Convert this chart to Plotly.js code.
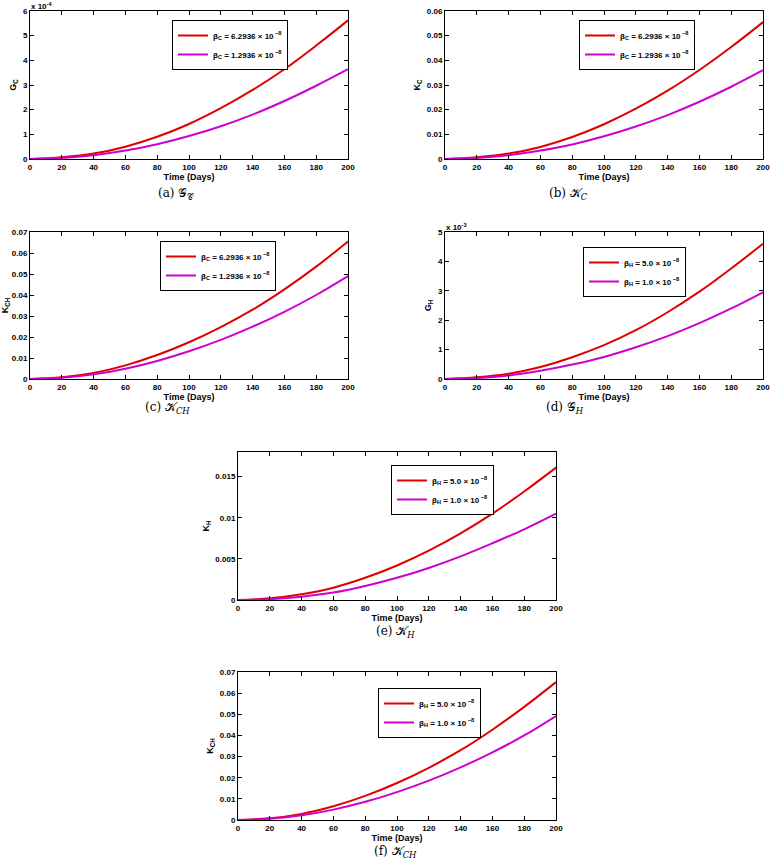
<!DOCTYPE html>
<html>
<head>
<meta charset="utf-8">
<script src="https://cdn.plot.ly/plotly-3.0.1.min.js"></script>
<style>
  html, body { margin: 0; padding: 0; background: #ffffff; }
  #chart { width: 770px; height: 861px; }
</style>
</head>
<body>
<div id="chart"></div>
<script>
/* Six panels, one shared MATLAB-like style: boxed axes, inside ticks,
 * bold Helvetica-ish labels, red = higher beta, magenta = lower beta. */

const DAYS = [0, 20, 40, 60, 80, 100, 120, 140, 160, 180, 200];

// (a) G_C, in units of 1e-4
const gcHigh = [0, 0.07, 0.22, 0.50, 0.90, 1.42, 2.06, 2.80, 3.64, 4.60, 5.62];
const gcLow = [0, 0.04, 0.15, 0.34, 0.60, 0.93, 1.33, 1.80, 2.35, 2.97, 3.64];
// (b) K_C
const kcHigh = [0, 0.0007, 0.0022, 0.0049, 0.0089, 0.0141, 0.0204, 0.0277, 0.0361, 0.0454, 0.0555];
const kcLow = [0, 0.0004, 0.0015, 0.0034, 0.0059, 0.0092, 0.0132, 0.0178, 0.0232, 0.0293, 0.0360];
// (c) K_CH, beta_C varied
const kchCHigh = [0, 0.0008, 0.0029, 0.0065, 0.0114, 0.0175, 0.0247, 0.0330, 0.0427, 0.0535, 0.0655];
const kchCLow = [0, 0.0006, 0.0022, 0.0049, 0.0086, 0.0132, 0.0186, 0.0249, 0.0320, 0.0400, 0.0490];
// (d) G_H, in units of 1e-3
const ghHigh = [0, 0.06, 0.18, 0.41, 0.74, 1.15, 1.66, 2.27, 2.97, 3.76, 4.60];
const ghLow = [0, 0.03, 0.12, 0.28, 0.49, 0.75, 1.08, 1.46, 1.90, 2.40, 2.95];
// (e) K_H
const khHigh = [0, 0.0002, 0.0007, 0.0015, 0.0027, 0.0042, 0.0060, 0.0081, 0.0105, 0.0132, 0.0161];
const khLow = [0, 0.0001, 0.0004, 0.0009, 0.0017, 0.0027, 0.0039, 0.0053, 0.0069, 0.0086, 0.0105];
// (f) K_CH, beta_H varied
const kchHHigh = [0, 0.0008, 0.0029, 0.0065, 0.0114, 0.0175, 0.0247, 0.0330, 0.0427, 0.0535, 0.0652];
const kchHLow = [0, 0.0006, 0.0022, 0.0049, 0.0086, 0.0132, 0.0186, 0.0249, 0.0320, 0.0400, 0.0492];

const BETA_C = ["β<sub>C</sub> = 6.2936 × 10<sup> −8</sup>", "β<sub>C</sub> = 1.2936 × 10<sup> −8</sup>"];
const BETA_H = ["β<sub>H</sub> = 5.0 × 10<sup> −8</sup>", "β<sub>H</sub> = 1.0 × 10<sup> −8</sup>"];

const RED = "#e00000";
const MAGENTA = "#cf00cf";
const W = 770, H = 861;
const SANS = '"Liberation Sans", Arial, Helvetica, sans-serif';
const SERIF = '"DejaVu Serif", "Liberation Serif", serif';

// box in page pixels: [left, right, top, bottom]; legend (right x, top y) and caption in pixels
const PANELS = [
  { box: [30, 348, 11, 159], hi: gcHigh, lo: gcLow, labels: BETA_C, ytitle: "G<sub>C</sub>",
    yrange: [0, 6], dtick: 1, exp: "x 10<sup>-4</sup>", leg: [288, 20],
    cap: [176, 194], caption: "(a) 𝒢<sub>𝒞</sub>" },
  { box: [445, 763, 11, 159], hi: kcHigh, lo: kcLow, labels: BETA_C, ytitle: "K<sub>C</sub>",
    yrange: [0, 0.06], dtick: 0.01, leg: [695, 20],
    cap: [568, 194], caption: "(b) 𝒦<sub><i>C</i></sub>" },
  { box: [30, 348, 232, 379], hi: kchCHigh, lo: kchCLow, labels: BETA_C, ytitle: "K<sub>CH</sub>",
    yrange: [0, 0.07], dtick: 0.01, leg: [276, 241],
    cap: [167, 408], caption: "(c) 𝒦<sub><i>CH</i></sub>" },
  { box: [445, 763, 232, 379], hi: ghHigh, lo: ghLow, labels: BETA_H, ytitle: "G<sub>H</sub>",
    yrange: [0, 5], dtick: 1, exp: "x 10<sup>-3</sup>", leg: [686, 247],
    cap: [565, 408], caption: "(d) 𝒢<sub><i>H</i></sub>" },
  { box: [238, 556, 452, 600], hi: khHigh, lo: khLow, labels: BETA_H, ytitle: "K<sub>H</sub>",
    yrange: [0, 0.018], dtick: 0.005, leg: [494, 465],
    cap: [396, 632], caption: "(e) 𝒦<sub><i>H</i></sub>" },
  { box: [238, 556, 672, 820], hi: kchHHigh, lo: kchHLow, labels: BETA_H, ytitle: "K<sub>CH</sub>",
    yrange: [0, 0.07], dtick: 0.01, leg: [481, 688],
    cap: [396, 852], caption: "(f) 𝒦<sub><i>CH</i></sub>" },
];

const px = (v) => v / W;
const py = (v) => 1 - v / H;

const axisStyle = {
  showline: true, linecolor: "#000000", linewidth: 1, mirror: "ticks",
  ticks: "inside", ticklen: 4, tickcolor: "#000000", showgrid: false, zeroline: false,
  tickfont: { family: SANS, size: 8, color: "#000000", weight: 700 },
  ticklabeloverflow: "allow", fixedrange: true,
};
const TITLE_FONT = { family: SANS, size: 9, color: "#000000", weight: 700 };

const traces = [];
const layout = {
  width: W, height: H,
  margin: { l: 0, r: 0, t: 0, b: 0 },
  paper_bgcolor: "#ffffff", plot_bgcolor: "#ffffff",
  showlegend: true,
  annotations: [],
};

PANELS.forEach((p, i) => {
  const n = i + 1;
  const sfx = n === 1 ? "" : String(n);
  const lg = `legend${sfx}`;
  const [l, r, t, b] = p.box;

  [[p.hi, RED, p.labels[0]], [p.lo, MAGENTA, p.labels[1]]].forEach(([ys, color, name]) => {
    traces.push({
      x: DAYS, y: ys, name, type: "scatter", mode: "lines",
      line: { color, width: 2, shape: "spline" },
      xaxis: `x${sfx}`, yaxis: `y${sfx}`,
      legend: lg, hoverinfo: "skip",
    });
  });

  layout[`xaxis${sfx}`] = {
    ...axisStyle, domain: [px(l), px(r)], anchor: `y${sfx}`,
    range: [0, 200], dtick: 20,
    title: { text: "Time (Days)", font: TITLE_FONT, standoff: 0 },
  };
  layout[`yaxis${sfx}`] = {
    ...axisStyle, domain: [py(b), py(t)], anchor: `x${sfx}`,
    range: p.yrange, dtick: p.dtick,
    title: { text: p.ytitle, font: TITLE_FONT, standoff: 4 },
  };
  layout[lg] = {
    x: px(p.leg[0]), y: py(p.leg[1]), xanchor: "right", yanchor: "top",
    bgcolor: "#ffffff", bordercolor: "#000000", borderwidth: 1,
    font: { family: SANS, size: 8, color: "#000000", weight: 700 },
    itemwidth: 30, tracegroupgap: 0,
  };

  if (p.exp) {
    layout.annotations.push({
      xref: "paper", yref: "paper", x: px(l), y: py(t), xanchor: "left", yanchor: "bottom",
      text: p.exp, showarrow: false, xshift: -1, yshift: -2,
      font: { family: SANS, size: 8, color: "#000000", weight: 700 },
    });
  }
  layout.annotations.push({
    xref: "paper", yref: "paper", x: px(p.cap[0]), y: py(p.cap[1]), xanchor: "center", yanchor: "middle",
    text: p.caption, showarrow: false,
    font: { family: SERIF, size: 12, color: "#000000" },
  });
});

Plotly.newPlot("chart", traces, layout, { displayModeBar: false, staticPlot: true });
</script>
</body>
</html>
